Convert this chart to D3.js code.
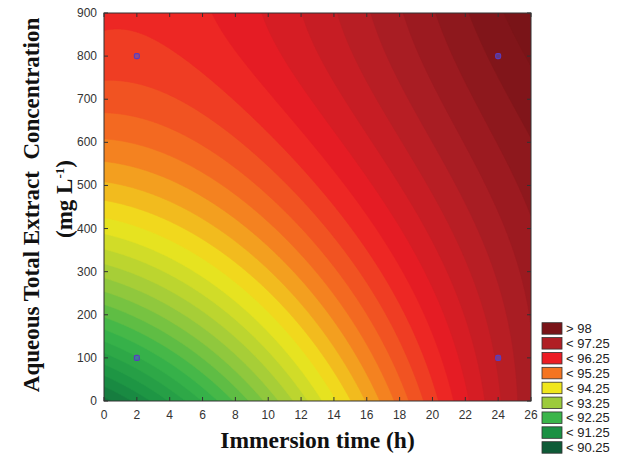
<!DOCTYPE html>
<html>
<head>
<meta charset="utf-8">
<script src="https://cdn.jsdelivr.net/npm/d3@7"></script>
<style>
  body { margin: 0; background: #fff; }
  text { font-family: "Liberation Sans", Arial, sans-serif; }
</style>
</head>
<body>
<div id="chart"></div>
<script>
// axis ticks
const xTicks = d3.range(0, 27, 2);
const yTicks = d3.range(0, 901, 100);

// legend (top to bottom)
const legendLabels = ["> 98", "< 97.25", "< 96.25", "< 95.25", "< 94.25", "< 93.25", "< 92.25", "< 91.25", "< 90.25"];
const legendColors = ["#7a1418", "#b01e24", "#ec1c24", "#f47421", "#f0e61c", "#9ccb3b", "#3ab54a", "#1a9143", "#0e5b37"];
const legendLevels = [98, 97, 96, 95, 94, 93, 92, 91, 90];

// experimental design points
const designTime = [2, 2, 24, 24];
const designConc = [100, 800, 100, 800];

// response surface, u = time / 26 h, v = conc / 900 mg/L
const surfaceTerms = ["1", "u", "v", "u2", "uv", "v2", "u3", "u2v", "uv2", "v3"];
const surfaceCoef = [90.4039, 5.0547, 9.2428, 4.1511, -10.2505, -3.1211, -2.4176, 0.9944, 4.8495, -0.7281];

const W = 622, H = 457;
const margin = { top: 13, right: 91, bottom: 56, left: 104 };

const svg = d3.select("#chart").append("svg")
    .attr("width", W)
    .attr("height", H);

let x = d3.scaleLinear().domain([0, 26]).range([margin.left, W - margin.right]);
let y = d3.scaleLinear().domain([0, 900]).range([H - margin.bottom, margin.top]);

function surface(t, c) {
    let u = t / 26, v = c / 900;
    let vals = { "1": 1, "u": u, "v": v, "u2": u * u, "uv": u * v, "v2": v * v,
                 "u3": u * u * u, "u2v": u * u * v, "uv2": u * v * v, "v3": v * v * v };
    return d3.sum(surfaceTerms, (k, i) => surfaceCoef[i] * vals[k]);
}

// colour for a value, blended between the legend colours
let colorScale = d3.scaleLinear()
    .domain(legendLevels.slice().reverse())
    .range(legendColors.slice().reverse())
    .clamp(true);

// sample the surface for d3.contours
let nx = 261, ny = 181;
let dt = 26 / (nx - 1), dc = 900 / (ny - 1);
let grid = new Array(nx * ny);
for (let j = 0; j < ny; j++) {
    for (let i = 0; i < nx; i++) {
        grid[j * nx + i] = surface(i * dt, j * dc);
    }
}

let step = 0.25;
let contours = d3.contours()
    .size([nx, ny])
    .thresholds(d3.range(86, 101, step))(grid);

let proj = d3.geoTransform({
    point: function (px, py) {
        this.stream.point(x((px - 0.5) * dt), y((py - 0.5) * dc));
    }
});
let path = d3.geoPath(proj);

svg.append("clipPath").attr("id", "plotClip")
    .append("rect")
    .attr("x", x(0)).attr("y", y(900))
    .attr("width", x(26) - x(0)).attr("height", y(0) - y(900));

let plot = svg.append("g").attr("clip-path", "url(#plotClip)");

plot.append("rect")
    .attr("x", x(0)).attr("y", y(900))
    .attr("width", x(26) - x(0)).attr("height", y(0) - y(900))
    .attr("fill", colorScale(86));

plot.selectAll("path.band")
    .data(contours)
    .enter()
    .append("path")
    .attr("class", "band")
    .attr("d", path)
    .attr("fill", d => colorScale(d.value + step / 2))
    .attr("stroke", d => colorScale(d.value + step / 2))
    .attr("stroke-width", 0.6);

// design points
plot.selectAll("rect.pt")
    .data(designTime)
    .enter()
    .append("rect")
    .attr("class", "pt")
    .attr("x", d => x(d) - 2.5)
    .attr("y", (d, i) => y(designConc[i]) - 2.5)
    .attr("width", 5)
    .attr("height", 5)
    .attr("rx", 1.5)
    .attr("fill", "#4a58d8")
    .attr("fill-opacity", 0.55)
    .attr("stroke", "#5a3cc0")
    .attr("stroke-width", 1.1);

// frame and inward ticks on all four sides
let tickLen = 4;
let axisColor = "#333";
let axes = svg.append("g");

axes.append("rect")
    .attr("x", x(0)).attr("y", y(900))
    .attr("width", x(26) - x(0)).attr("height", y(0) - y(900))
    .attr("fill", "none")
    .attr("stroke", axisColor)
    .attr("stroke-width", 1);

xTicks.forEach(t => {
    axes.append("line")
        .attr("x1", x(t)).attr("x2", x(t))
        .attr("y1", y(0)).attr("y2", y(0) - tickLen)
        .attr("stroke", axisColor);
    axes.append("line")
        .attr("x1", x(t)).attr("x2", x(t))
        .attr("y1", y(900)).attr("y2", y(900) + tickLen)
        .attr("stroke", axisColor);
    axes.append("text")
        .attr("x", x(t))
        .attr("y", y(0) + 18)
        .attr("text-anchor", "middle")
        .attr("font-size", 12)
        .attr("fill", "#333")
        .text(t);
});

yTicks.forEach(v => {
    axes.append("line")
        .attr("x1", x(0)).attr("x2", x(0) + tickLen)
        .attr("y1", y(v)).attr("y2", y(v))
        .attr("stroke", axisColor);
    axes.append("line")
        .attr("x1", x(26)).attr("x2", x(26) - tickLen)
        .attr("y1", y(v)).attr("y2", y(v))
        .attr("stroke", axisColor);
    axes.append("text")
        .attr("x", x(0) - 7)
        .attr("y", y(v) + 4)
        .attr("text-anchor", "end")
        .attr("font-size", 12)
        .attr("fill", "#333")
        .text(v);
});

// axis titles
let serif = "'Liberation Serif', 'Times New Roman', serif";

svg.append("text")
    .attr("x", (x(0) + x(26)) / 2)
    .attr("y", 448)
    .attr("text-anchor", "middle")
    .style("font-family", serif)
    .style("font-weight", "bold")
    .style("font-size", "23.5px")
    .attr("fill", "#111")
    .text("Immersion time (h)");

svg.append("text")
    .attr("transform", "translate(39,205) rotate(-90)")
    .attr("text-anchor", "middle")
    .style("font-family", serif)
    .style("font-weight", "bold")
    .style("font-size", "23px")
    .attr("fill", "#111")
    .text("Aqueous Total Extract\u00a0 Concentration");

let unit = svg.append("text")
    .attr("transform", "translate(72,199) rotate(-90)")
    .attr("text-anchor", "middle")
    .style("font-family", serif)
    .style("font-weight", "bold")
    .style("font-size", "23px")
    .attr("fill", "#111");
unit.append("tspan").text("(mg L");
unit.append("tspan").attr("dy", -8).style("font-size", "13px").text("-1");
unit.append("tspan").attr("dy", 8).text(")");

// legend
let legend = svg.append("g").attr("class", "legend");
legendLabels.forEach((lab, i) => {
    let ly = 322.7 + i * 14.875;
    legend.append("rect")
        .attr("x", 542).attr("y", ly)
        .attr("width", 20).attr("height", 11.5)
        .attr("fill", legendColors[i])
        .attr("stroke", "#333")
        .attr("stroke-width", 0.8);
    legend.append("text")
        .attr("x", 566).attr("y", ly + 10.5)
        .attr("font-size", 13)
        .attr("fill", "#222")
        .text(lab);
});
</script>
</body>
</html>
